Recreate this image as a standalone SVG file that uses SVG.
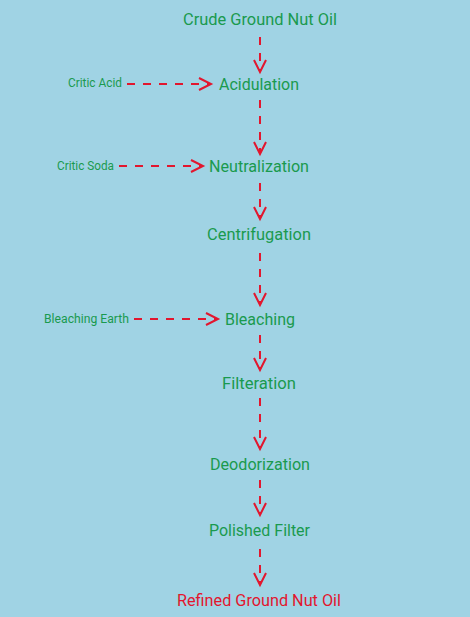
<svg xmlns="http://www.w3.org/2000/svg" width="470" height="617" viewBox="0 0 470 617">
<style>
.n{font-family:Roboto,"Liberation Sans",sans-serif;font-size:16px;fill:#1a9a4e;text-anchor:middle;dominant-baseline:central}
.s{font-family:Roboto,"Liberation Sans",sans-serif;font-size:12px;fill:#1a9a4e;dominant-baseline:central}
.r{fill:#e2162e}
.c{stroke:#e2162e;stroke-width:2;stroke-dasharray:8 8;fill:none}
</style>
<defs>
<marker id="a" markerUnits="userSpaceOnUse" markerWidth="16" markerHeight="16" refX="13" refY="7" orient="auto" viewBox="0 0 16 14">
<path d="M1,1 L13,7 L1,13" fill="none" stroke="#e2162e" stroke-width="2"/>
</marker>
</defs>
<rect width="470" height="617" fill="#a0d3e4"/>
<g id="connectors">
<line class="c" x1="260" y1="37" x2="260" y2="72" marker-end="url(#a)"/>
<line class="c" x1="127" y1="84" x2="211" y2="84" marker-end="url(#a)"/>
<line class="c" x1="260" y1="100" x2="260" y2="154" marker-end="url(#a)"/>
<line class="c" x1="119" y1="166" x2="203" y2="166" marker-end="url(#a)"/>
<line class="c" x1="260" y1="183" x2="260" y2="219" marker-end="url(#a)"/>
<line class="c" x1="260" y1="253" x2="260" y2="305" marker-end="url(#a)"/>
<line class="c" x1="134" y1="319" x2="218" y2="319" marker-end="url(#a)"/>
<line class="c" x1="260" y1="335" x2="260" y2="370" marker-end="url(#a)"/>
<line class="c" x1="260" y1="398" x2="260" y2="449" marker-end="url(#a)"/>
<line class="c" x1="260" y1="480" x2="260" y2="515" marker-end="url(#a)"/>
<line class="c" x1="260" y1="549" x2="260" y2="585" marker-end="url(#a)"/>
</g>
<g id="crude"><text class="n" x="260" y="19" textLength="154" lengthAdjust="spacingAndGlyphs">Crude Ground Nut Oil</text></g>
<g id="acidulation"><text class="n" x="259" y="84" textLength="80" lengthAdjust="spacingAndGlyphs">Acidulation</text></g>
<g id="critic-acid"><text class="s" x="68" y="83" textLength="54" lengthAdjust="spacingAndGlyphs">Critic Acid</text></g>
<g id="neutralization"><text class="n" x="259" y="166" textLength="100" lengthAdjust="spacingAndGlyphs">Neutralization</text></g>
<g id="critic-soda"><text class="s" x="57" y="166" textLength="57" lengthAdjust="spacingAndGlyphs">Critic Soda</text></g>
<g id="centrifugation"><text class="n" x="259" y="234" textLength="104" lengthAdjust="spacingAndGlyphs">Centrifugation</text></g>
<g id="bleaching"><text class="n" x="260" y="319" textLength="70" lengthAdjust="spacingAndGlyphs">Bleaching</text></g>
<g id="bleaching-earth"><text class="s" x="44" y="319" textLength="85" lengthAdjust="spacingAndGlyphs">Bleaching Earth</text></g>
<g id="filteration"><text class="n" x="259" y="383" textLength="74" lengthAdjust="spacingAndGlyphs">Filteration</text></g>
<g id="deodorization"><text class="n" x="260" y="464" textLength="100" lengthAdjust="spacingAndGlyphs">Deodorization</text></g>
<g id="polished"><text class="n" x="259.5" y="530" textLength="101" lengthAdjust="spacingAndGlyphs">Polished Filter</text></g>
<g id="refined"><text class="n r" x="259" y="600" textLength="164" lengthAdjust="spacingAndGlyphs">Refined Ground Nut Oil</text></g>
</svg>
